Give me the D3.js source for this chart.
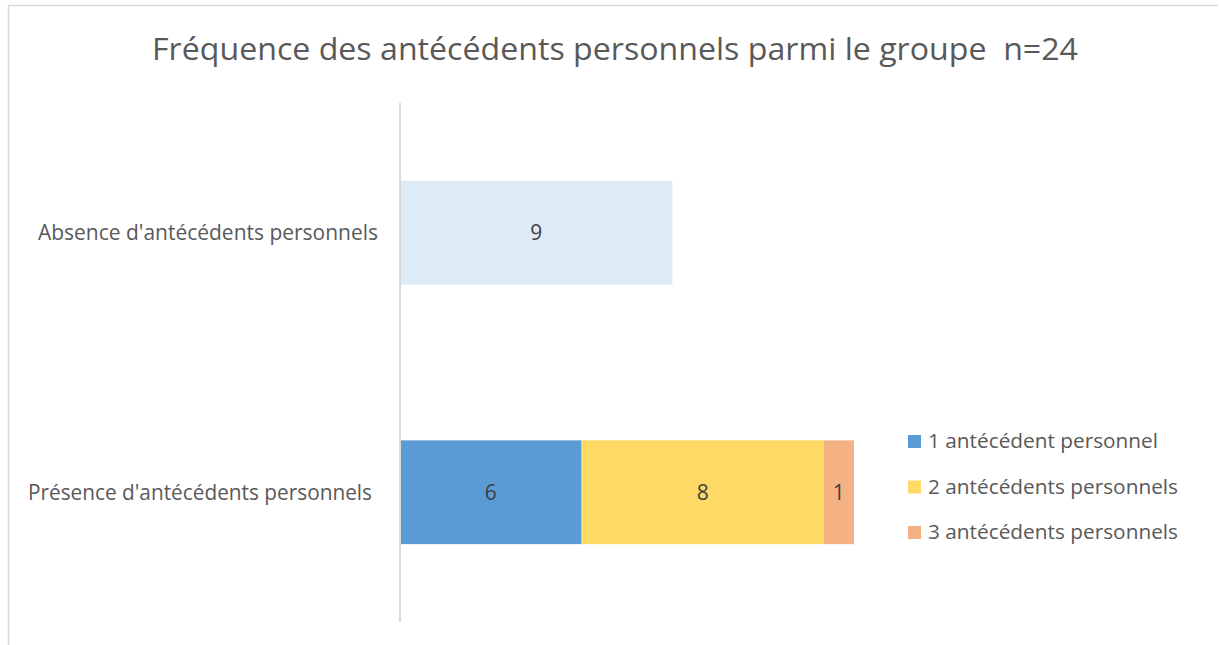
<!DOCTYPE html>
<html><head><meta charset="utf-8">
<script src="https://cdn.jsdelivr.net/npm/d3@7"></script>
<style>body{margin:0;background:#fff;} svg{display:block;} text{white-space:pre;}</style>
</head><body>
<svg id="c" width="1219" height="645"></svg>
<script>
const categories = ["Absence d'antécédents personnels", "Présence d'antécédents personnels"];
const seriesNames = ["Absence", "1 antécédent personnel", "2 antécédents personnels", "3 antécédents personnels"];
const absenceValues = [9, 0];
const oneValues = [0, 6];
const twoValues = [0, 8];
const threeValues = [0, 1];
const colors = ["#DDEBF7", "#5B9BD5", "#FFD966", "#F4B183"];
const legendSeries = [1, 2, 3];
const title = "Fréquence des antécédents personnels parmi le groupe  n=24";

const svg = d3.select("#c");
const font = "'Open Sans', sans-serif";

// border
svg.append("path").attr("d", "M8.5,645 V5.5 H1218").attr("fill","none").attr("stroke","#d9d9d9").attr("stroke-width",1.5);

svg.append("text").attr("x", 152).attr("y", 60)
  .attr("font-family", font).attr("font-size", 31).attr("fill","#595959")
  .attr("textLength", 926).attr("lengthAdjust","spacingAndGlyphs").text(title);

const x = d3.scaleLinear().domain([0, 15]).range([400, 854]);
const y = d3.scaleBand().domain(categories).range([103, 622]).paddingInner(0.6).paddingOuter(0.3);

const rows = categories.map((c, i) => ({cat: c, v: [absenceValues[i], oneValues[i], twoValues[i], threeValues[i]]}));
const stack = d3.stack().keys([0,1,2,3]).value((d, k) => d.v[k]);
const layers = stack(rows);

layers.forEach((layer, k) => {
  layer.forEach(seg => {
    const val = seg[1] - seg[0];
    if (!val) return;
    const cat = seg.data.cat;
    svg.append("rect").attr("x", x(seg[0])).attr("y", y(cat)).attr("width", x(seg[1]) - x(seg[0]))
      .attr("height", y.bandwidth()).attr("fill", colors[k]);
    svg.append("text").attr("x", (x(seg[0]) + x(seg[1]))/2).attr("y", y(cat) + y.bandwidth()/2)
      .attr("dy","0.36em").attr("text-anchor","middle").attr("font-family", font).attr("font-size", 21)
      .attr("fill","#404040").text(val);
  });
});

// axis
const labelEnd = [378, 372];
const labelLen = [340, 344];
const ax = svg.append("g").attr("transform", "translate(400,0)")
  .call(d3.axisLeft(y).tickSize(0).tickPadding(22));
ax.select(".domain").attr("stroke","#d9d9d9").attr("stroke-width",2).attr("d","M0,103V622");
ax.selectAll(".tick text").each(function(d, i) {
  d3.select(this).attr("font-family", font).attr("font-size", 21).attr("fill","#595959")
    .attr("x", labelEnd[i] - 400).attr("dy", "0.36em")
    .attr("textLength", labelLen[i]).attr("lengthAdjust","spacingAndGlyphs");
});

// legend
const legendLen = [230, 250, 250];
const lg = svg.append("g");
legendSeries.forEach((k, i) => {
  const yy = 441 + i * 45.5;
  lg.append("rect").attr("x", 908).attr("y", yy - 6).attr("width", 13).attr("height", 13).attr("fill", colors[k]);
  lg.append("text").attr("x", 928).attr("y", yy).attr("dy","0.36em").attr("font-family", font)
    .attr("font-size", 20).attr("fill","#595959")
    .attr("textLength", legendLen[i]).attr("lengthAdjust","spacingAndGlyphs").text(seriesNames[k]);
});
</script>
</body></html>
